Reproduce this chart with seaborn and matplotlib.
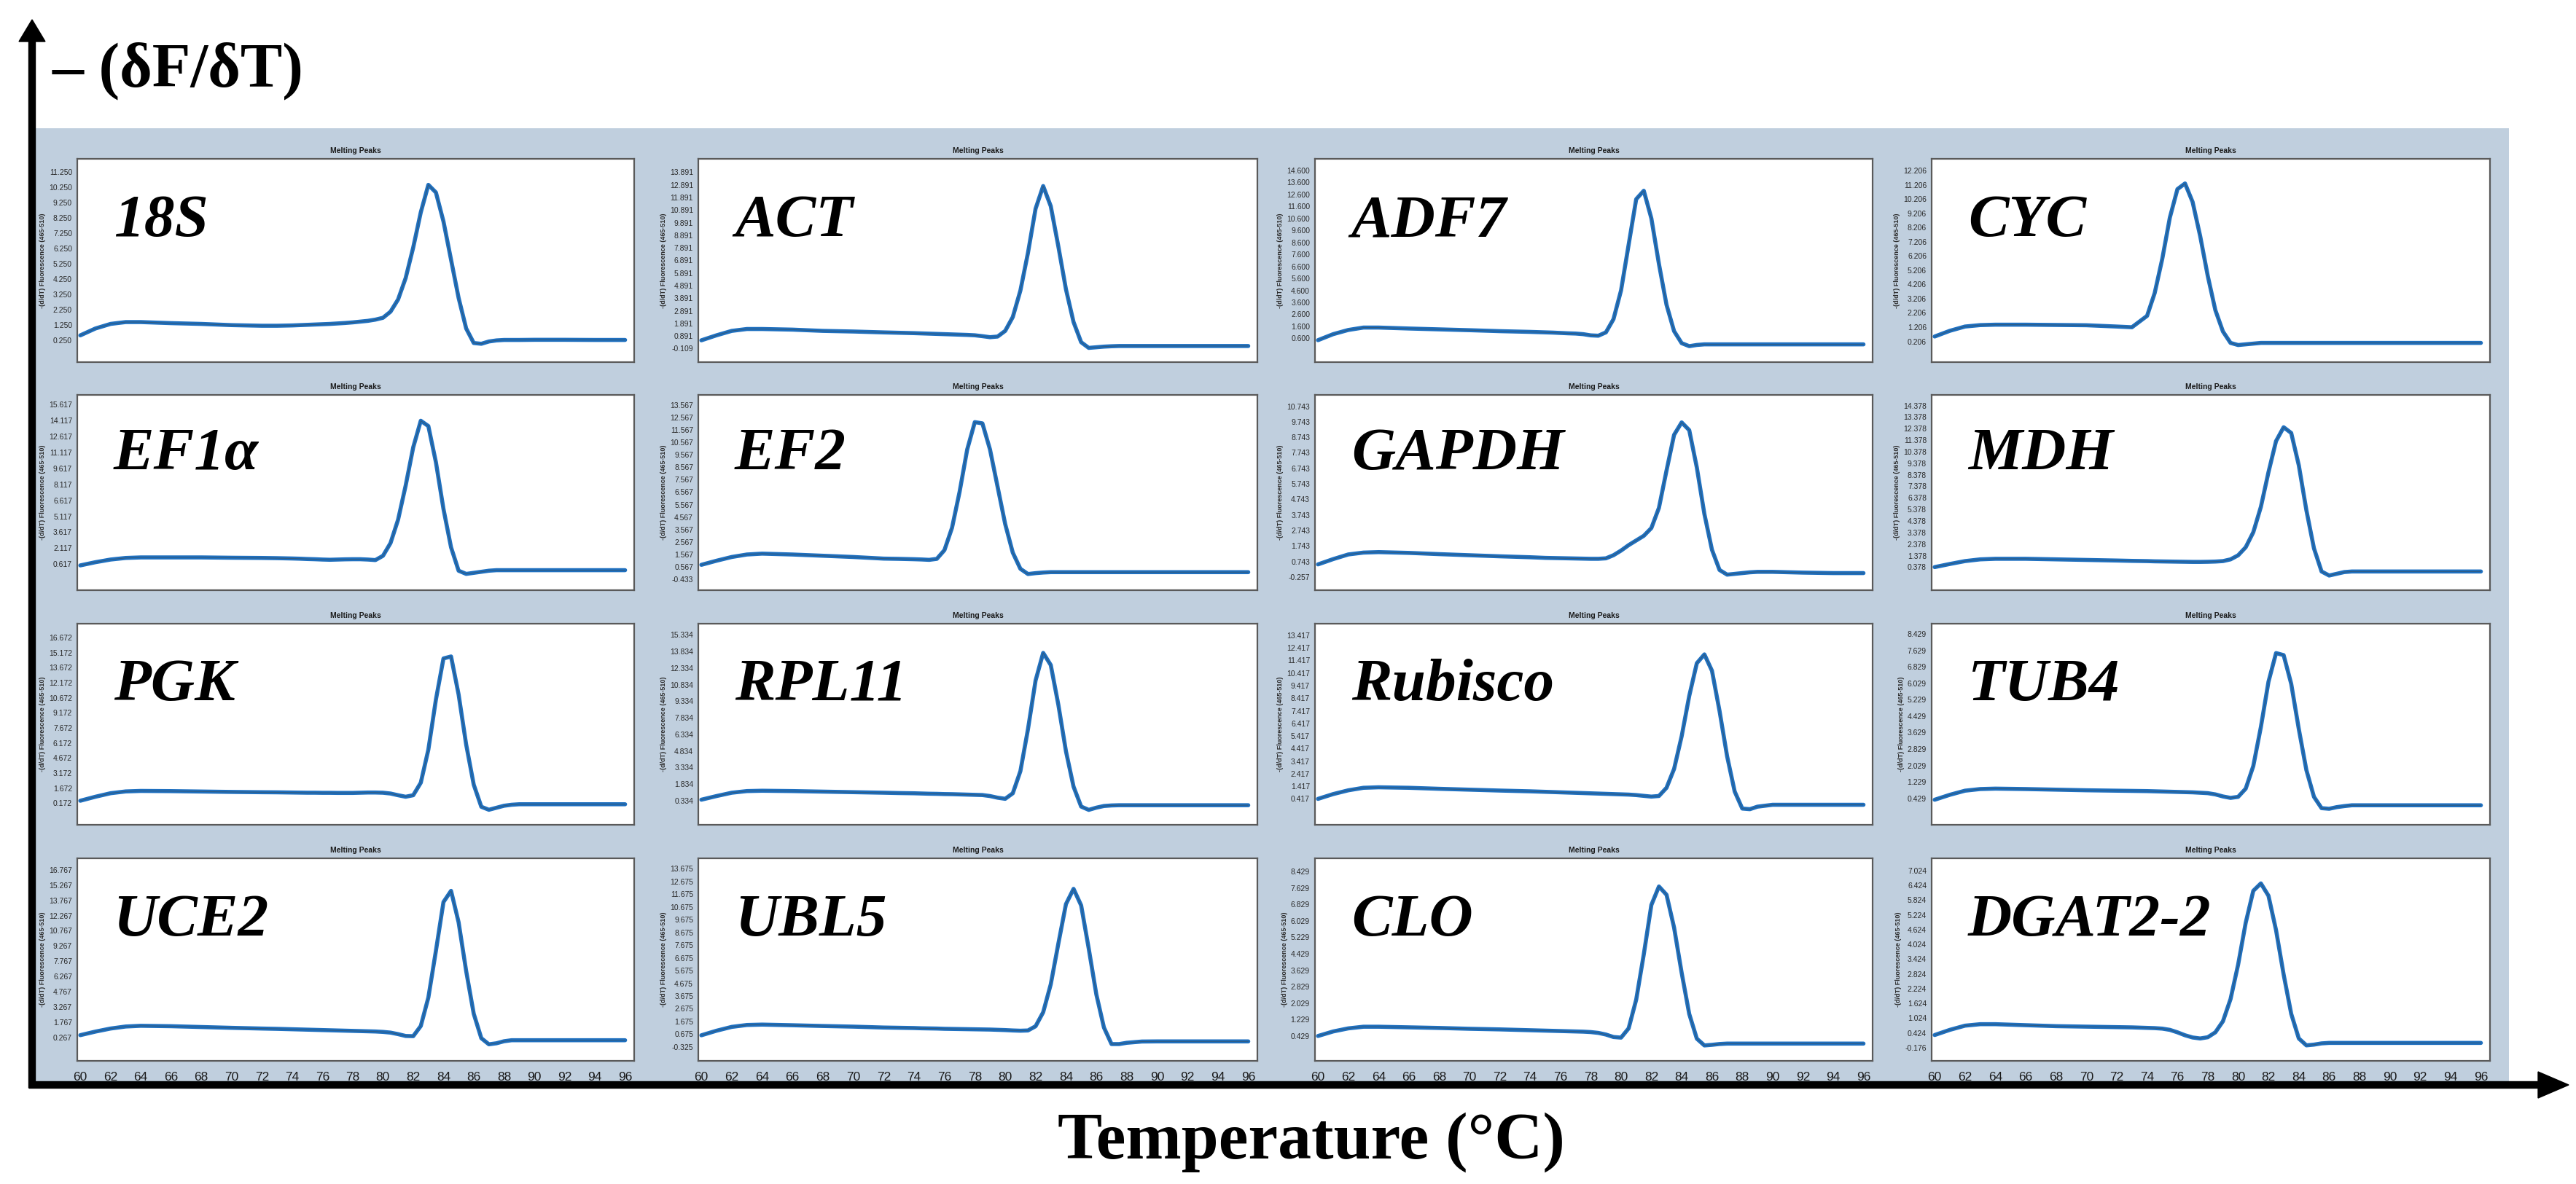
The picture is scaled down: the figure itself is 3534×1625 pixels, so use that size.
import matplotlib
matplotlib.use('Agg')
import numpy as np
import pandas as pd
import matplotlib.pyplot as plt
from matplotlib.patches import Rectangle, FancyArrow
import seaborn as sns

# =====================================================
# DATA
# =====================================================

TEMPS = [60, 61, 62, 63, 64, 66, 68, 70, 72, 73,
         74, 74.5, 75, 75.5, 76, 76.5, 77, 77.5, 78, 78.5,
         79, 79.5, 80, 80.5, 81, 81.5, 82, 82.5, 83, 83.5,
         84, 84.5, 85, 85.5, 86, 86.5, 87, 87.5, 88, 88.5,
         89, 90, 92, 94, 96]

Y_18S = [0.55, 1.00, 1.30, 1.42, 1.42, 1.35, 1.30, 1.22, 1.18, 1.18,
         1.20, 1.22, 1.24, 1.26, 1.28, 1.30, 1.33, 1.36, 1.40, 1.45,
         1.50, 1.58, 1.70, 2.10, 2.90, 4.30, 6.30, 8.60, 10.40, 9.90,
         8.00, 5.50, 3.00, 1.00, 0.05, 0.00, 0.15, 0.22, 0.25, 0.25,
         0.25, 0.26, 0.26, 0.25, 0.25]

Y_ACT = [0.55, 0.95, 1.30, 1.45, 1.45, 1.40, 1.30, 1.25, 1.18, 1.15,
         1.12, 1.10, 1.08, 1.06, 1.04, 1.02, 1.00, 0.98, 0.95, 0.88,
         0.80, 0.85, 1.30, 2.40, 4.50, 7.50, 11.00, 12.80, 11.20, 8.00,
         4.60, 2.00, 0.40, -0.05, 0.00, 0.05, 0.08, 0.10, 0.10, 0.10,
         0.10, 0.10, 0.10, 0.10, 0.10]

Y_ADF7 = [0.45, 0.95, 1.30, 1.50, 1.50, 1.42, 1.35, 1.28, 1.20, 1.17,
          1.14, 1.12, 1.10, 1.08, 1.05, 1.02, 1.00, 0.95, 0.85, 0.82,
          1.10, 2.20, 4.60, 8.40, 12.20, 12.90, 10.60, 6.80, 3.40, 1.20,
          0.20, -0.05, 0.05, 0.10, 0.10, 0.10, 0.10, 0.10, 0.10, 0.10,
          0.10, 0.10, 0.10, 0.10, 0.10]

Y_CYC = [0.55, 0.95, 1.25, 1.35, 1.38, 1.38, 1.36, 1.34, 1.25, 1.20,
         2.00, 3.60, 6.00, 8.90, 10.90, 11.30, 10.00, 7.60, 4.80, 2.40,
         0.90, 0.10, -0.05, 0.00, 0.05, 0.10, 0.10, 0.10, 0.10, 0.10,
         0.10, 0.10, 0.10, 0.10, 0.10, 0.10, 0.10, 0.10, 0.10, 0.10,
         0.10, 0.10, 0.10, 0.10, 0.10]

Y_EF1A = [0.50, 0.80, 1.05, 1.20, 1.25, 1.25, 1.25, 1.22, 1.20, 1.18,
          1.15, 1.13, 1.10, 1.08, 1.05, 1.03, 1.05, 1.07, 1.08, 1.08,
          1.05, 1.00, 1.40, 2.60, 4.80, 8.00, 11.60, 14.10, 13.60, 10.20,
          5.80, 2.20, 0.00, -0.30, -0.20, -0.10, 0.00, 0.05, 0.05, 0.05,
          0.05, 0.05, 0.05, 0.05, 0.05]

Y_EF2 = [0.72, 1.05, 1.35, 1.55, 1.62, 1.55, 1.45, 1.35, 1.22, 1.20,
         1.17, 1.15, 1.12, 1.20, 1.90, 3.70, 6.60, 10.00, 12.20, 12.10,
         10.00, 7.00, 4.00, 1.70, 0.40, -0.02, 0.05, 0.10, 0.13, 0.13,
         0.13, 0.13, 0.13, 0.13, 0.13, 0.13, 0.13, 0.13, 0.13, 0.13,
         0.13, 0.13, 0.13, 0.13, 0.13]

Y_GAPDH = [0.56, 0.90, 1.20, 1.32, 1.35, 1.30, 1.22, 1.15, 1.08, 1.05,
           1.02, 1.00, 0.98, 0.97, 0.96, 0.95, 0.94, 0.93, 0.92, 0.92,
           0.95, 1.15, 1.45, 1.80, 2.10, 2.40, 2.90, 4.20, 6.60, 8.90,
           9.70, 9.20, 6.80, 3.80, 1.50, 0.20, -0.10, -0.05, 0.00, 0.05,
           0.08, 0.08, 0.03, 0.00, 0.00]

Y_MDH = [0.38, 0.65, 0.90, 1.05, 1.10, 1.10, 1.05, 1.00, 0.95, 0.92,
         0.90, 0.88, 0.87, 0.86, 0.85, 0.84, 0.83, 0.83, 0.84, 0.86,
         0.90, 1.05, 1.40, 2.10, 3.40, 5.60, 8.60, 11.30, 12.50, 12.00,
         9.20, 5.30, 2.00, 0.00, -0.35, -0.20, -0.05, 0.00, 0.00, 0.00,
         0.00, 0.00, 0.00, 0.00, 0.00]

Y_PGK = [0.40, 0.80, 1.15, 1.33, 1.38, 1.36, 1.32, 1.28, 1.25, 1.24,
         1.22, 1.21, 1.20, 1.20, 1.19, 1.19, 1.18, 1.18, 1.18, 1.20,
         1.22, 1.22, 1.20, 1.12, 0.95, 0.80, 0.95, 2.20, 5.50, 10.50,
         14.60, 14.80, 11.00, 6.00, 2.00, -0.20, -0.50, -0.30, -0.10, 0.00,
         0.05, 0.05, 0.05, 0.05, 0.05]

Y_RPL11 = [0.42, 0.75, 1.05, 1.20, 1.23, 1.20, 1.15, 1.10, 1.05, 1.02,
           1.00, 0.98, 0.96, 0.95, 0.93, 0.92, 0.90, 0.88, 0.86, 0.84,
           0.75, 0.60, 0.50, 1.00, 3.00, 6.80, 11.20, 13.70, 12.60, 9.00,
           4.80, 1.60, -0.20, -0.50, -0.30, -0.15, -0.10, -0.08, -0.08, -0.08,
           -0.08, -0.08, -0.08, -0.08, -0.08]

Y_RUBISCO = [0.42, 0.80, 1.10, 1.30, 1.34, 1.30, 1.22, 1.15, 1.08, 1.05,
             1.02, 1.00, 0.98, 0.96, 0.94, 0.92, 0.90, 0.88, 0.86, 0.84,
             0.82, 0.80, 0.78, 0.76, 0.72, 0.66, 0.60, 0.65, 1.30, 2.80,
             5.40, 8.60, 11.20, 11.90, 10.60, 7.40, 3.80, 1.00, -0.35, -0.40,
             -0.20, -0.05, -0.05, -0.05, -0.05]

Y_TUB4 = [0.36, 0.60, 0.80, 0.88, 0.90, 0.88, 0.85, 0.82, 0.80, 0.79,
          0.78, 0.77, 0.76, 0.75, 0.74, 0.73, 0.72, 0.70, 0.68, 0.62,
          0.52, 0.45, 0.50, 0.90, 2.00, 3.90, 6.10, 7.50, 7.40, 6.00,
          3.80, 1.80, 0.50, -0.05, -0.08, 0.00, 0.05, 0.09, 0.09, 0.09,
          0.09, 0.09, 0.09, 0.09, 0.09]

Y_UCE2 = [0.50, 0.85, 1.15, 1.35, 1.42, 1.38, 1.30, 1.22, 1.15, 1.12,
          1.08, 1.06, 1.04, 1.02, 1.00, 0.98, 0.96, 0.94, 0.92, 0.90,
          0.88, 0.86, 0.82, 0.75, 0.60, 0.42, 0.40, 1.40, 4.20, 8.80,
          13.60, 14.70, 11.60, 6.80, 2.60, 0.20, -0.40, -0.30, -0.10, 0.00,
          0.00, 0.00, 0.00, 0.00, 0.00]

Y_UBL5 = [0.59, 0.95, 1.25, 1.40, 1.43, 1.38, 1.32, 1.27, 1.20, 1.18,
          1.16, 1.14, 1.13, 1.12, 1.10, 1.09, 1.08, 1.07, 1.06, 1.05,
          1.04, 1.02, 1.00, 0.97, 0.95, 0.97, 1.30, 2.40, 4.60, 7.80,
          10.90, 12.10, 10.80, 7.40, 3.80, 1.20, -0.10, -0.10, 0.00, 0.05,
          0.10, 0.11, 0.11, 0.11, 0.11]

Y_CLO = [0.43, 0.65, 0.80, 0.88, 0.88, 0.85, 0.82, 0.78, 0.75, 0.73,
         0.71, 0.70, 0.69, 0.68, 0.67, 0.66, 0.65, 0.64, 0.62, 0.58,
         0.50, 0.38, 0.35, 0.80, 2.20, 4.40, 6.80, 7.70, 7.30, 5.70,
         3.50, 1.50, 0.30, -0.03, 0.00, 0.04, 0.06, 0.06, 0.06, 0.06,
         0.06, 0.06, 0.06, 0.06, 0.06]

Y_DGAT = [0.34, 0.55, 0.72, 0.78, 0.78, 0.74, 0.70, 0.68, 0.66, 0.65,
          0.63, 0.62, 0.60, 0.55, 0.45, 0.33, 0.24, 0.20, 0.25, 0.45,
          0.90, 1.80, 3.20, 4.90, 6.20, 6.50, 6.00, 4.60, 2.80, 1.20,
          0.20, -0.08, -0.05, 0.00, 0.02, 0.02, 0.02, 0.02, 0.02, 0.02,
          0.02, 0.02, 0.02, 0.02, 0.02]

GENES = ['18S', 'ACT', 'ADF7', 'CYC',
         'EF1α', 'EF2', 'GAPDH', 'MDH',
         'PGK', 'RPL11', 'Rubisco', 'TUB4',
         'UCE2', 'UBL5', 'CLO', 'DGAT2-2']
CURVES = [Y_18S, Y_ACT, Y_ADF7, Y_CYC,
          Y_EF1A, Y_EF2, Y_GAPDH, Y_MDH,
          Y_PGK, Y_RPL11, Y_RUBISCO, Y_TUB4,
          Y_UCE2, Y_UBL5, Y_CLO, Y_DGAT]

TICK_FIRST = [0.250, -0.109, 0.600, 0.206, 0.617, -0.433, -0.257, 0.378,
              0.172, 0.334, 0.417, 0.429, 0.267, -0.325, 0.429, -0.176]
TICK_STEP = [1, 1, 1, 1, 1.5, 1, 1, 1,
             1.5, 1.5, 1, 0.8, 1.5, 1, 0.8, 0.6]
TICK_LAST = [11.250, 13.891, 14.600, 12.206, 15.617, 13.567, 10.743, 14.378,
             16.672, 15.334, 13.417, 8.429, 16.767, 13.675, 8.429, 7.024]
Y_LOW = [-1.20, -1.18, -1.38, -1.25, -1.83, -1.32, -1.10, -1.62,
         -2.00, -1.85, -1.64, -0.86, -2.03, -1.42, -0.78, -0.71]
Y_HIGH = [12.10, 14.96, 15.56, 13.03, 16.53, 14.39, 11.47, 15.30,
          18.07, 16.34, 14.34, 8.93, 17.90, 14.50, 9.07, 7.52]
X_TICKS = list(range(60, 97, 2))

# =====================================================
# LAYOUT (pixels of the 3534 x 1625 canvas)
# =====================================================

W, H = 3534, 1625
COL_X = [(106, 870), (958, 1725), (1804, 2569), (2650, 3416)]
ROW_Y = [(218, 497), (542, 810), (856, 1132), (1178, 1456)]

PANEL_BG = '#c0cfde'
BAND = '#1f70c0'
EDGE = '#34556f'

sns.set_theme(style='white')
plt.rcParams['font.family'] = ['Liberation Sans', 'DejaVu Sans']
plt.rcParams['text.color'] = 'black'

fig = plt.figure(figsize=(W / 100, H / 100), dpi=100)

# background layer: blue panel, arrows, big labels
bg = fig.add_axes([0, 0, 1, 1], zorder=0)
bg.set_xlim(0, W)
bg.set_ylim(H, 0)
bg.axis('off')
bg.add_patch(Rectangle((49, 176), 3442 - 49, 1485 - 176, color=PANEL_BG, lw=0))
bg.add_patch(FancyArrow(44, 1493, 0, 27 - 1493, width=9, head_width=36,
                        head_length=30, length_includes_head=True, color='black'))
bg.add_patch(FancyArrow(40, 1489, 3524 - 40, 0, width=9, head_width=36,
                        head_length=42, length_includes_head=True, color='black'))
bg.text(72, 118, '– (δF/δT)', family='Liberation Serif', fontweight='bold',
        fontsize=62, va='baseline', ha='left', color='black')
bg.text(1799, 1590, 'Temperature (°C)', family='Liberation Serif', fontweight='bold',
        fontsize=66, va='baseline', ha='center', color='black')

for i, gene in enumerate(GENES):
    r, c = divmod(i, 4)
    x0, x1 = COL_X[c]
    y0, y1 = ROW_Y[r]
    ax = fig.add_axes([x0 / W, 1 - y1 / H, (x1 - x0) / W, (y1 - y0) / H], zorder=1)
    ax.set_facecolor('white')

    df = pd.DataFrame({'temp': TEMPS, 'val': CURVES[i]})
    sns.lineplot(data=df, x='temp', y='val', ax=ax, color=BAND, linewidth=4.0,
                 estimator=None, sort=False, solid_joinstyle='round')
    sns.lineplot(data=df, x='temp', y='val', ax=ax, color=EDGE, linewidth=0.8,
                 estimator=None, sort=False, alpha=0.8)

    ax.set_xlim(59.8, 96.6)
    ax.set_ylim(Y_LOW[i], Y_HIGH[i])
    yt = np.arange(TICK_FIRST[i], TICK_LAST[i] + TICK_STEP[i] / 2, TICK_STEP[i])
    ax.set_yticks(yt)
    ax.set_yticklabels([f'{v:.3f}' for v in yt], fontsize=7.5, color='#2a2a2a')
    ax.set_xticks(X_TICKS)
    ax.set_xticklabels([str(v) for v in X_TICKS], fontsize=12.5, color='#1a1a1a')
    ax.tick_params(axis='x', direction='out', length=4, width=1, color='#666666',
                   labelbottom=(r == 3), pad=7)
    ax.tick_params(axis='y', direction='out', length=3, width=0.8, color='#666666', pad=2)
    for sp in ax.spines.values():
        sp.set_color('#5a5a5a')
        sp.set_linewidth(1.6)

    ax.set_xlabel('')
    ax.set_ylabel('-(d/dT) Fluorescence (465-510)', fontsize=6.5, fontweight='bold',
                  color='#2a2a2a', labelpad=3)
    ax.set_title('Melting Peaks', fontsize=7.5, fontweight='bold', color='#1a1a1a', pad=6)
    ax.text(0.065, 0.62, gene, transform=ax.transAxes, family='Liberation Serif',
            fontweight='bold', style='italic', fontsize=60, va='baseline', ha='left',
            color='black')

fig.savefig('out.png', dpi=100, facecolor='white')
